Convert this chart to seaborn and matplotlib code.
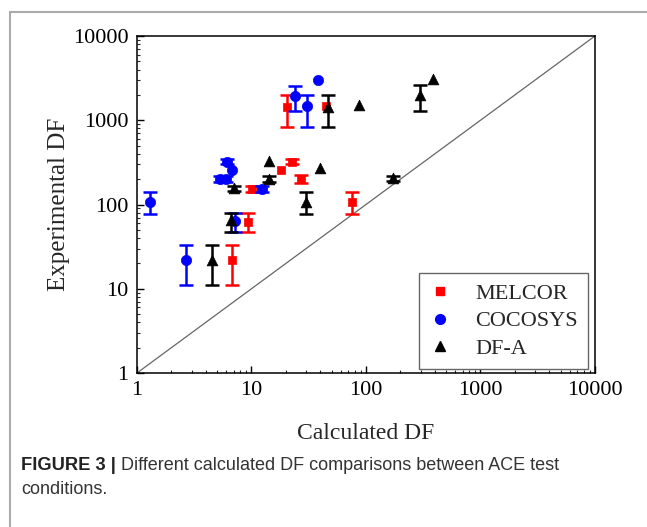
import numpy as np
import pandas as pd
import matplotlib
matplotlib.use("Agg")
import matplotlib.pyplot as plt
import matplotlib.ticker as mticker
from matplotlib.lines import Line2D
import seaborn as sns

# ---- data ----
melcor_x = [6.7, 9.4, 10.2, 18, 20.3, 22.4, 26.9, 44.7, 75]
melcor_y = [22, 62, 152, 257, 1425, 322, 199, 1470, 108]
melcor_lo = [11, 47, 140, 257, 840, 300, 178, 1470, 77]
melcor_hi = [33, 80, 165, 257, 2000, 345, 222, 1470, 140]

cocosys_x = [1.3, 2.68, 5.3, 6.0, 6.15, 6.7, 7.2, 12.3, 24, 30.3, 37.9]
cocosys_y = [108, 22, 200, 200, 322, 257, 64, 152, 1940, 1475, 3000]
cocosys_lo = [77, 11, 185, 185, 300, 257, 47, 140, 1300, 840, 3000]
cocosys_hi = [140, 33, 215, 215, 345, 257, 80, 165, 2570, 2000, 3000]

dfa_x = [4.5, 6.6, 7.03, 14.2, 14.2, 29.9, 39.7, 46.3, 87.4, 173, 296, 387]
dfa_y = [22, 65, 156, 331, 200, 108, 269, 1450, 1520, 205, 1995, 3090]
dfa_lo = [11, 47.5, 145, 331, 185, 77, 269, 840, 1520, 190, 1300, 3090]
dfa_hi = [33, 80, 168, 331, 215, 140, 269, 2000, 1520, 220, 2620, 3090]

series_names = ["MELCOR", "COCOSYS", "DF-A"]
tick_values = [1, 10, 100, 1000, 10000]
tick_labels = ["1", "10", "100", "1000", "10000"]

colors = {"MELCOR": "#ff0000", "COCOSYS": "#0000ff", "DF-A": "#000000"}
markers = {"MELCOR": "s", "COCOSYS": "o", "DF-A": "^"}
msizes = {"MELCOR": 40, "COCOSYS": 55, "DF-A": 60}

frames = []
for name, xs, ys, lo, hi in [
    ("MELCOR", melcor_x, melcor_y, melcor_lo, melcor_hi),
    ("COCOSYS", cocosys_x, cocosys_y, cocosys_lo, cocosys_hi),
    ("DF-A", dfa_x, dfa_y, dfa_lo, dfa_hi),
]:
    frames.append(pd.DataFrame({"model": name, "calc": xs, "exp": ys, "lo": lo, "hi": hi}))
df = pd.concat(frames, ignore_index=True)

sns.set_style("ticks")
plt.rcParams["font.family"] = ["Liberation Serif", "DejaVu Serif"]
plt.rcParams["mathtext.fontset"] = "stix"

fig = plt.figure(figsize=(6.47, 5.27), dpi=100)
fig.patch.set_facecolor("white")
ax = fig.add_axes([0.2117, 0.2922, 0.7079, 0.6395])
ax.set_facecolor("white")

# diagonal 1:1
ax.plot([1, 10000], [1, 10000], color="#666666", lw=0.9, zorder=1)

for i, name in enumerate(series_names):
    sub = df[df["model"] == name]
    err = sub[(sub["hi"] > sub["exp"]) | (sub["lo"] < sub["exp"])]
    ax.errorbar(err["calc"], err["exp"],
                yerr=[err["exp"] - err["lo"], err["hi"] - err["exp"]],
                fmt="none", ecolor=colors[name], elinewidth=1.8,
                capsize=5, capthick=1.8, zorder=2 + i)
    sns.scatterplot(data=sub, x="calc", y="exp", marker=markers[name],
                    color=colors[name], s=msizes[name], edgecolor=colors[name],
                    linewidth=0.5, ax=ax, zorder=3 + i, legend=False)

ax.set_xscale("log")
ax.set_yscale("log")
ax.set_xlim(1, 10000)
ax.set_ylim(1, 10000)
ax.set_xticks(tick_values)
ax.set_xticklabels(tick_labels)
ax.set_yticks(tick_values)
ax.set_yticklabels(tick_labels)
ax.xaxis.set_minor_locator(mticker.LogLocator(base=10, subs=np.arange(2, 10)))
ax.yaxis.set_minor_locator(mticker.LogLocator(base=10, subs=np.arange(2, 10)))
ax.xaxis.set_minor_formatter(mticker.NullFormatter())
ax.yaxis.set_minor_formatter(mticker.NullFormatter())
ax.tick_params(which="major", direction="in", length=5, width=1, labelsize=16,
               top=False, right=False, pad=6, colors="black")
ax.tick_params(which="minor", direction="in", length=2.5, width=0.8,
               top=False, right=False)
for sp in ax.spines.values():
    sp.set_visible(True)
    sp.set_color("black")
    sp.set_linewidth(1.1)

ax.set_xlabel("Calculated DF", fontsize=17, labelpad=16)
ax.set_ylabel("Experimental DF", fontsize=18, labelpad=2)

handles = [Line2D([], [], linestyle="none", marker=markers[n], color=colors[n],
                  markersize=7 if n != "MELCOR" else 6) for n in series_names]
leg = ax.legend(handles, series_names, loc="lower right",
                bbox_to_anchor=(0.985, 0.012), fontsize=16, frameon=True,
                fancybox=False, framealpha=1, edgecolor="#666666",
                handlelength=1.0, handletextpad=1.1, labelspacing=0.32,
                borderpad=0.45, borderaxespad=0)
leg.get_frame().set_linewidth(1.0)

# outer frame lines (gray)
fig.add_artist(Line2D([10 / 647, 10 / 647], [0, 1 - 12 / 527], color="#aaaaaa", lw=1.5,
                      transform=fig.transFigure))
fig.add_artist(Line2D([10 / 647, 1], [1 - 12 / 527, 1 - 12 / 527], color="#aaaaaa", lw=1.5,
                      transform=fig.transFigure))

# caption
cap_family = ["Liberation Sans", "DejaVu Sans"]
t1 = fig.text(21 / 647, 1 - 465 / 527, "FIGURE 3 |", fontsize=13.2, fontweight="bold",
              family=cap_family, color="#222222", va="center", ha="left")
fig.canvas.draw()
bb = t1.get_window_extent(renderer=fig.canvas.get_renderer())
x_after = (bb.x1 + 5) / fig.bbox.width
fig.text(x_after, 1 - 465 / 527, "Different calculated DF comparisons between ACE test",
         fontsize=13, family=cap_family, color="#333333", va="center", ha="left")
fig.text(21 / 647, 1 - 489 / 527, "conditions.", fontsize=13, family=cap_family,
         color="#333333", va="center", ha="left")

fig.savefig("out.png", dpi=100, facecolor="white")
